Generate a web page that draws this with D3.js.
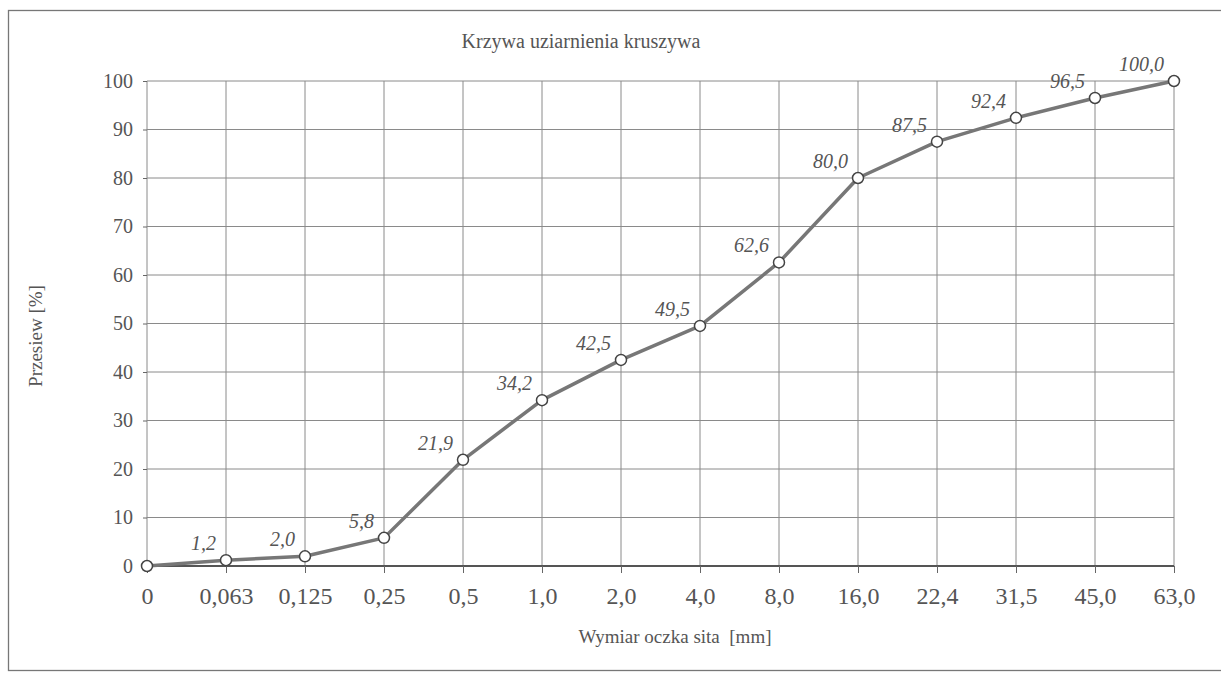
<!DOCTYPE html>
<html>
<head>
<meta charset="utf-8">
<script src="https://cdn.jsdelivr.net/npm/d3@7/dist/d3.min.js"></script>
<style>
  html, body { margin: 0; padding: 0; background: #fff; }
  svg { display: block; }
  svg text { font-family: "Liberation Serif", serif !important; fill: #555; }
</style>
</head>
<body>
<svg id="chart" width="1221" height="677"></svg>
<script>
// ---- data ----
const sieveSizes = ["0", "0,063", "0,125", "0,25", "0,5", "1,0", "2,0", "4,0", "8,0", "16,0", "22,4", "31,5", "45,0", "63,0"];
const passing = [0, 1.2, 2.0, 5.8, 21.9, 34.2, 42.5, 49.5, 62.6, 80.0, 87.5, 92.4, 96.5, 100.0];
const yTicks = [0, 10, 20, 30, 40, 50, 60, 70, 80, 90, 100];
const chartTitle = "Krzywa uziarnienia kruszywa";
const xTitle = "Wymiar oczka sita  [mm]";
const yTitle = "Przesiew [%]";

// ---- layout ----
const plot = { left: 147, right: 1174, top: 81, bottom: 566 };

const svg = d3.select("#chart");

// outer frame
svg.append("rect")
  .attr("x", 8.5).attr("y", 10.5)
  .attr("width", 1222).attr("height", 660)
  .attr("fill", "none").attr("stroke", "#777").attr("stroke-width", 1.3);

const x = d3.scalePoint().domain(sieveSizes).range([plot.left, plot.right]).padding(0);
const y = d3.scaleLinear().domain([0, 100]).range([plot.bottom, plot.top]);

// horizontal grid
svg.append("g").selectAll("line").data(yTicks.filter(d => d > 0)).join("line")
  .attr("x1", plot.left).attr("x2", plot.right)
  .attr("y1", d => y(d)).attr("y2", d => y(d))
  .attr("stroke", "#8a8a8a").attr("stroke-width", 1);

// vertical grid
svg.append("g").selectAll("line").data(sieveSizes).join("line")
  .attr("x1", d => x(d)).attr("x2", d => x(d))
  .attr("y1", plot.top).attr("y2", plot.bottom)
  .attr("stroke", "#8a8a8a").attr("stroke-width", 1);

// y axis (tick marks + labels)
const yAxis = d3.axisLeft(y).tickValues(yTicks).tickSize(4).tickPadding(10).tickFormat(d3.format("d"));
const gy = svg.append("g").attr("transform", `translate(${plot.left},0)`).call(yAxis);
gy.select(".domain").remove();
gy.selectAll(".tick line").attr("stroke", "#666");
gy.selectAll(".tick text").attr("font-size", 20).attr("fill", "#555");

// x axis
const xAxis = d3.axisBottom(x).tickSize(7).tickPadding(14);
const gx = svg.append("g").attr("transform", `translate(0,${plot.bottom})`).call(xAxis);
gx.select(".domain").attr("stroke", "#555").attr("stroke-width", 1.8)
  .attr("d", `M${plot.left},0H${plot.right}`);
gx.selectAll(".tick line").attr("stroke", "#666");
gx.selectAll(".tick text").attr("font-size", 24).attr("fill", "#555");

// line
const line = d3.line().x((d, i) => x(sieveSizes[i])).y(d => y(d));
svg.append("path").datum(passing)
  .attr("d", line)
  .attr("fill", "none")
  .attr("stroke", "#777")
  .attr("stroke-width", 3.5)
  .attr("stroke-linejoin", "round");

// markers
svg.append("g").selectAll("circle").data(passing).join("circle")
  .attr("cx", (d, i) => x(sieveSizes[i]))
  .attr("cy", d => y(d))
  .attr("r", 5.5)
  .attr("fill", "#fff")
  .attr("stroke", "#444")
  .attr("stroke-width", 1.5);

// data labels
const fmt = v => v.toFixed(1).replace(".", ",");
svg.append("g").selectAll("text").data(passing.map((v, i) => ({ v, i }))).join("text")
  .filter(d => d.v > 0)
  .attr("x", d => x(sieveSizes[d.i]) - 10)
  .attr("y", d => y(d.v) - 10)
  .attr("text-anchor", "end")
  .attr("font-size", 20)
  .attr("font-style", "italic")
  .attr("fill", "#555")
  .text(d => fmt(d.v));

// titles
svg.append("text")
  .attr("x", 581).attr("y", 48)
  .attr("text-anchor", "middle")
  .attr("font-size", 20)
  .text(chartTitle);

svg.append("text")
  .attr("x", 675).attr("y", 643)
  .attr("text-anchor", "middle")
  .attr("font-size", 19)
  .style("white-space", "pre")
  .text(xTitle);

svg.append("text")
  .attr("transform", "translate(42,336) rotate(-90)")
  .attr("text-anchor", "middle")
  .attr("font-size", 19)
  .text(yTitle);
</script>
</body>
</html>
